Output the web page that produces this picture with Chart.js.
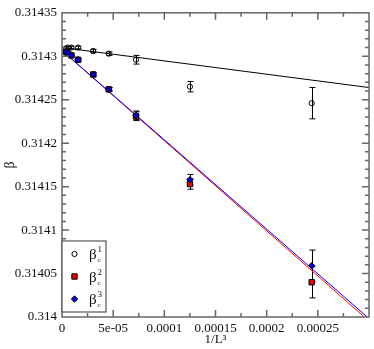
<!DOCTYPE html>
<html>
<head>
<meta charset="utf-8">
<script src="https://cdn.jsdelivr.net/npm/chart.js@4.4.0/dist/chart.umd.min.js"></script>
<style>
html, body { margin: 0; padding: 0; background: #fff; }
</style>
</head>
<body>
<canvas id="myChart" width="374" height="349"></canvas>
<script>
// 1/L^3 for L = 64, 56, 48, 40, 32, 28, 24, 20, 16
var invL3 = [3.81e-6, 5.69e-6, 9.04e-6, 1.5625e-5, 3.05e-5, 4.56e-5, 7.23e-5, 1.25e-4, 2.44e-4];

var beta1 = [0.314309, 0.314310, 0.314310, 0.314310, 0.314306, 0.314303, 0.314296, 0.314265, 0.314246];
var beta1Err = [0.0000015, 0.0000015, 0.0000015, 0.0000015, 0.000002, 0.000002, 0.000005, 0.000006, 0.000018];
var beta2 = [0.314305, 0.314303, 0.314301, 0.314296, 0.314279, 0.314262, 0.314231, 0.314153, 0.314040];
var beta2Err = [0.0000015, 0.0000015, 0.0000015, 0.0000015, 0.000002, 0.000002, 0.000005, 0.000006, 0.000018];
var beta3 = [0.314305, 0.314303, 0.314301, 0.314296, 0.314279, 0.314262, 0.314232, 0.314158, 0.314059];
var beta3Err = [0.0000015, 0.0000015, 0.0000015, 0.0000015, 0.000002, 0.000002, 0.000005, 0.000006, 0.000018];

// straight-line fits, ends at x = 0 and x = 0.0003
var fitX = [0, 0.0003];
var fit1 = [0.31431, 0.314264];
var fit2 = [0.3143066, 0.3139953];
var fit3 = [0.3143066, 0.3139983];

var xTicks = [0, 0.00005, 0.0001, 0.00015, 0.0002, 0.00025, 0.0003];
var xTickLabels = ['0', '5e-05', '0.0001', '0.00015', '0.0002', '0.00025', ''];
var yTicks = [0.314, 0.31405, 0.3141, 0.31415, 0.3142, 0.31425, 0.3143, 0.31435];
var yTickLabels = ['0.314', '0.31405', '0.3141', '0.31415', '0.3142', '0.31425', '0.3143', '0.31435'];

function pts(xs, ys) {
    var out = [];
    for (var i = 0; i < xs.length; i++) out.push({x: xs[i], y: ys[i]});
    return out;
}

var serif = "'Liberation Serif', 'DejaVu Serif', serif";

// error bars, drawn under the markers
var errorBars = {
    id: 'errorBars',
    beforeDatasetsDraw: function (chart) {
        var c = chart.ctx, xs = chart.scales.x, ys = chart.scales.y;
        c.save();
        c.strokeStyle = '#000';
        c.lineWidth = 1;
        chart.data.datasets.forEach(function (ds) {
            if (!ds.err) return;
            ds.data.forEach(function (p, i) {
                var px = Math.round(xs.getPixelForValue(p.x)) + 0.5;
                var y1 = ys.getPixelForValue(p.y + ds.err[i]);
                var y2 = ys.getPixelForValue(p.y - ds.err[i]);
                c.beginPath();
                c.moveTo(px, y1); c.lineTo(px, y2);
                c.moveTo(px - 3, y1); c.lineTo(px + 3, y1);
                c.moveTo(px - 3, y2); c.lineTo(px + 3, y2);
                c.stroke();
            });
        });
        c.restore();
    }
};

// box round the plot, with inward ticks on all four sides
var frame = {
    id: 'frame',
    afterDatasetsDraw: function (chart) {
        var c = chart.ctx, a = chart.chartArea, xs = chart.scales.x, ys = chart.scales.y;
        c.save();
        c.strokeStyle = '#666';
        c.lineWidth = 1.5;
        c.beginPath();
        var i, v, p, len;
        for (i = 0; i < xTicks.length; i++) {
            for (var k = 0; k < 2; k++) {
                v = xTicks[i] + k * 0.000025;
                if (v > 0.0003 + 1e-9 || (k === 0 && i === 0) || (k === 0 && i === xTicks.length - 1)) continue;
                p = xs.getPixelForValue(v);
                len = k === 0 ? 7 : 4;
                c.moveTo(p, a.bottom); c.lineTo(p, a.bottom - len);
                c.moveTo(p, a.top); c.lineTo(p, a.top + len);
            }
        }
        for (i = 0; i < yTicks.length; i++) {
            for (var m = 0; m < 5; m++) {
                v = yTicks[i] + m * 0.00001;
                if (v > 0.31435 + 1e-9 || (m === 0 && (i === 0 || i === yTicks.length - 1))) continue;
                p = ys.getPixelForValue(v);
                len = m === 0 ? 7 : 4;
                c.moveTo(a.left, p); c.lineTo(a.left + len, p);
                c.moveTo(a.right, p); c.lineTo(a.right - len, p);
            }
        }
        c.stroke();
        c.strokeRect(a.left, a.top, a.right - a.left, a.bottom - a.top);
        c.restore();
    }
};

// legend box with sub/superscripts
var legendBox = {
    id: 'legendBox',
    afterDraw: function (chart) {
        var c = chart.ctx, a = chart.chartArea;
        var x0 = a.left, y0 = 241, w = 44, h = 71;
        c.save();
        c.fillStyle = '#fff';
        c.fillRect(x0, y0, w, h);
        c.strokeStyle = '#555';
        c.lineWidth = 1.2;
        c.strokeRect(x0, y0, w, h);
        var sets = chart.data.datasets.slice(0, 3).reverse();
        var sups = ['1', '2', '3'];
        for (var i = 0; i < 3; i++) {
            var ds = sets[i];
            var cy = 254 + i * 22.5;
            c.fillStyle = ds.backgroundColor;
            c.strokeStyle = ds.borderColor;
            c.lineWidth = 1;
            Chart.helpers.drawPoint(c, {pointStyle: ds.pointStyle, radius: ds.pointRadius, borderWidth: 1}, 74.5, cy);
            c.fillStyle = '#111';
            c.textBaseline = 'alphabetic';
            c.textAlign = 'left';
            c.font = '15px ' + serif;
            c.fillText('\u03b2', 89, cy + 5);
            c.font = '7px ' + serif;
            c.fillText('c', 97.5, cy + 8);
            c.font = '9px ' + serif;
            c.fillText(sups[i], 97.5, cy - 2);
        }
        c.restore();
    }
};

var ctx = document.getElementById('myChart');
var myChart = new Chart(ctx, {
    type: 'scatter',
    data: {
        datasets: [
            {
                label: 'beta_c^3', data: pts(invL3, beta3), err: beta3Err,
                pointStyle: 'rectRot', pointRadius: 3.2, backgroundColor: '#0000dd',
                borderColor: '#000', borderWidth: 1
            },
            {
                label: 'beta_c^2', data: pts(invL3, beta2), err: beta2Err,
                pointStyle: 'rect', pointRadius: 3.8, backgroundColor: '#ee0000',
                borderColor: '#000', borderWidth: 1
            },
            {
                label: 'beta_c^1', data: pts(invL3, beta1), err: beta1Err,
                pointStyle: 'circle', pointRadius: 2.6, backgroundColor: 'rgba(0,0,0,0)',
                borderColor: '#000', borderWidth: 1
            },
            {
                data: pts(fitX, fit3), showLine: true, pointRadius: 0,
                borderColor: '#0000ff', borderWidth: 1
            },
            {
                data: pts(fitX, fit2), showLine: true, pointRadius: 0,
                borderColor: '#ff0000', borderWidth: 1
            },
            {
                data: pts(fitX, fit1), showLine: true, pointRadius: 0,
                borderColor: '#000', borderWidth: 1
            }
        ]
    },
    options: {
        responsive: false,
        animation: false,
        layout: {padding: {top: 5, right: 2, left: 0, bottom: 0}},
        plugins: {legend: {display: false}, tooltip: {enabled: false}},
        scales: {
            x: {
                type: 'linear', min: 0, max: 0.0003,
                grid: {display: false, drawTicks: false},
                border: {display: false},
                afterBuildTicks: function (s) { s.ticks = xTicks.map(function (v) { return {value: v}; }); },
                afterFit: function (s) { s.height = 32; },
                ticks: {
                    padding: 4, color: '#111', maxRotation: 0, autoSkip: false,
                    font: {family: serif, size: 13},
                    callback: function (v, i) { return xTickLabels[i]; }
                },
                title: {
                    display: true, text: '1/L\u00b3', color: '#111',
                    font: {family: serif, size: 13}, padding: {top: 0, bottom: 2}
                }
            },
            y: {
                type: 'linear', min: 0.314, max: 0.31435,
                grid: {display: false, drawTicks: false},
                border: {display: false},
                afterBuildTicks: function (s) { s.ticks = yTicks.map(function (v) { return {value: v}; }); },
                afterFit: function (s) { s.width = 62; },
                ticks: {
                    padding: 5, color: '#111', autoSkip: false,
                    font: {family: serif, size: 13},
                    callback: function (v, i) { return yTickLabels[i]; }
                },
                title: {
                    display: true, text: '\u03b2', color: '#111',
                    font: {family: serif, size: 14}, padding: {top: 2, bottom: 0}
                }
            }
        }
    },
    plugins: [errorBars, frame, legendBox]
});
</script>
</body>
</html>
